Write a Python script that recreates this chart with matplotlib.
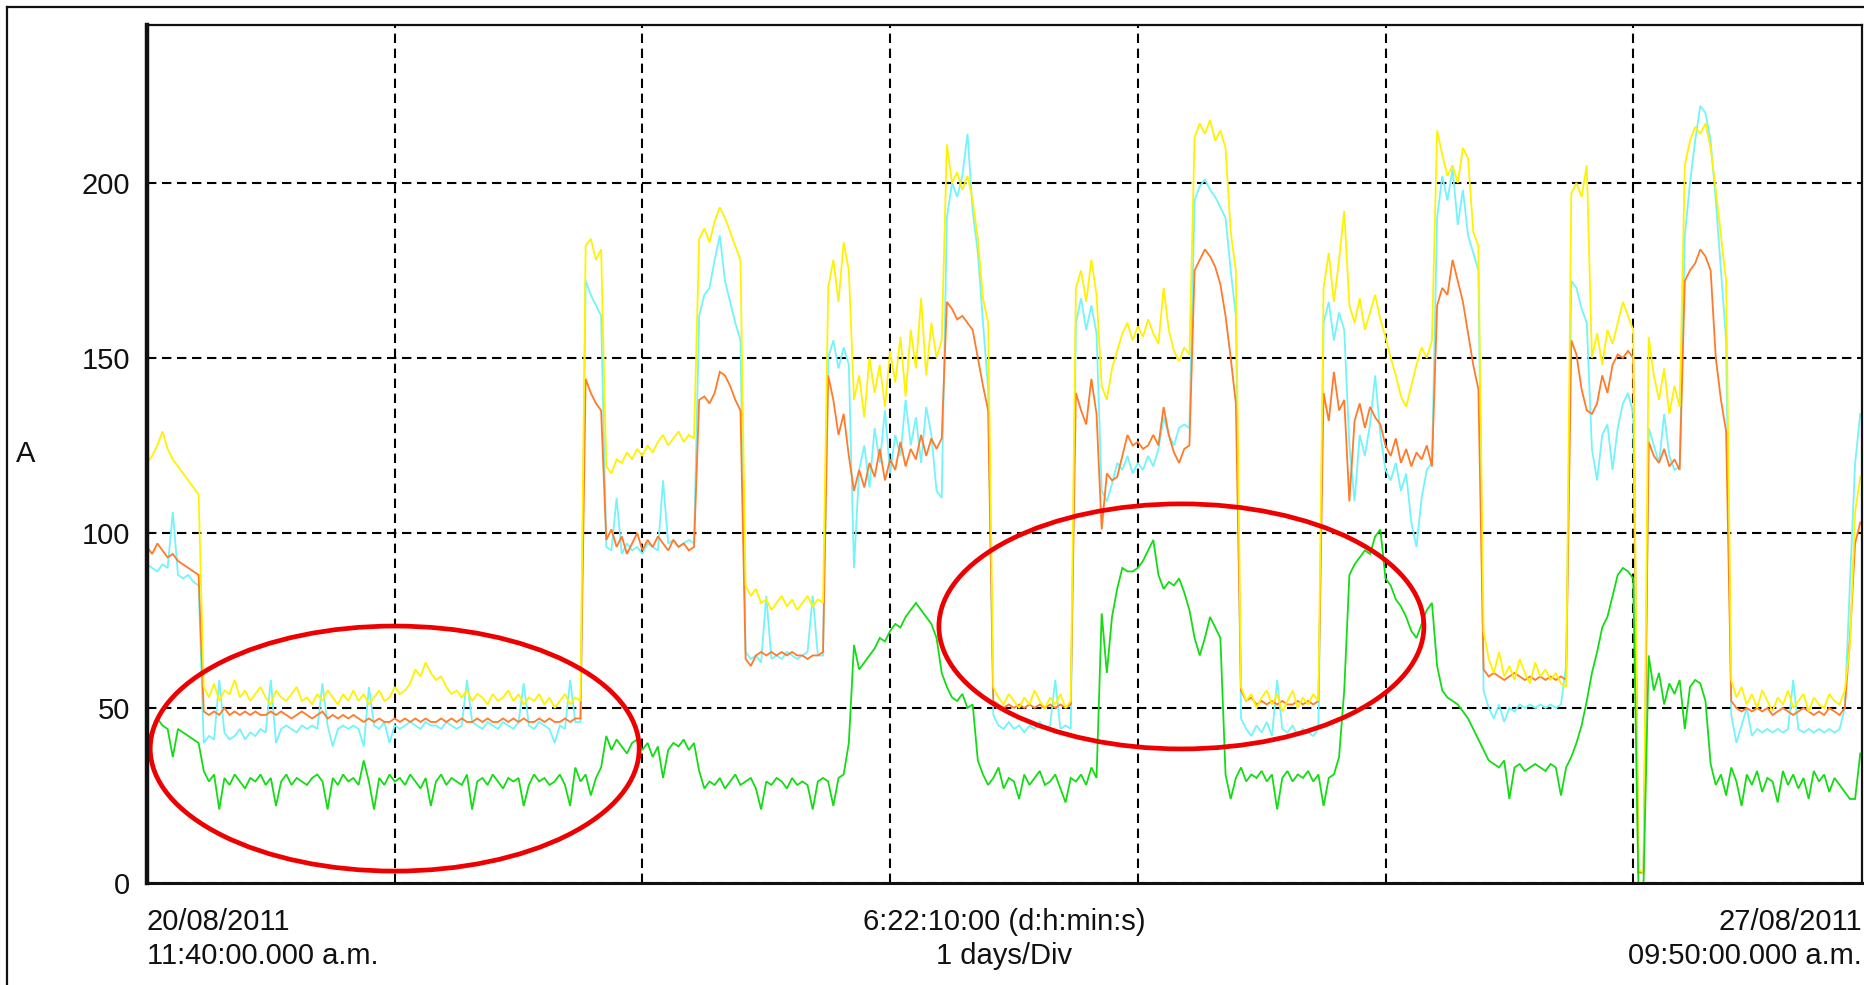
import numpy as np
import matplotlib
matplotlib.use("Agg")
import matplotlib.pyplot as plt
from matplotlib.patches import Ellipse
from matplotlib.lines import Line2D

plt.rcParams["font.family"] = ["Liberation Sans", "DejaVu Sans"]

# Currents (A), one sample every 30 minutes from 20/08/2011 11:40 a.m.
SAMPLES_PER_DAY = 48

phase_yellow = [
    120, 122, 125, 129, 124, 121, 119, 117, 115, 113, 111,
    56, 53, 57, 52, 55, 54, 58, 53, 55, 52,
    54, 56, 53, 51, 55, 53, 52, 54, 56, 52,
    53, 51, 54, 52, 55, 53, 51, 54, 52, 55,
    52, 54, 51, 53, 55, 52, 53, 56, 54, 55,
    57, 61, 59, 63, 60, 58, 59, 56, 54, 55,
    53, 55, 52, 54, 53, 51, 54, 52, 53, 55,
    52, 54, 51, 53, 52, 54, 51, 53, 50, 52,
    54, 51, 53,
    52,
    182, 184, 178, 181,
    119, 117, 121, 120, 123, 121, 124, 122, 125, 123, 126, 128, 125, 127, 129, 126, 128, 127,
    184, 187, 183, 189, 193, 190, 186, 182, 178,
    85, 82, 84, 80, 81, 78, 80, 82, 79, 81, 78, 80, 82, 79, 81, 80,
    170, 178, 166, 183, 175,
    138, 145, 133, 150, 140, 148, 136, 152, 143, 156, 139, 158, 147, 167, 145, 160, 150, 155,
    211, 200, 203, 198, 202, 195, 184, 167, 160,
    56, 53, 51, 54, 52, 50, 53, 51, 55, 52, 50, 53, 51, 54, 50, 52,
    170, 175, 166, 178, 168,
    142, 138, 147, 152, 157, 160, 155, 159, 156, 161, 157, 154, 170, 158, 152, 149, 153,
    151,
    213, 217, 214, 218, 212, 215, 210, 186, 175,
    56, 52, 54, 50, 53, 55, 51, 54, 49, 52, 55, 50, 53, 51, 54, 52,
    170, 180, 166, 178, 192,
    165, 160, 167, 158, 163, 168, 161, 156, 150, 145, 139, 136, 142, 148, 153, 150, 155,
    215, 208, 202, 205, 200, 210, 207, 186, 182,
    72, 64, 60, 66, 59, 62, 58, 64, 60, 57, 63, 59, 61, 58, 60, 57, 56,
    197, 200, 196, 205,
    150, 157, 148, 158, 154, 160, 166, 162, 158,
    4, 3,
    156, 145, 138, 147, 134, 142, 136,
    205, 212, 216, 214, 217, 210, 198, 185, 172,
    58, 53, 56, 51, 54, 50, 55, 52, 49, 53, 51, 55, 50, 52, 54, 49, 53, 51, 50, 54, 52, 51,
    55, 68, 106, 116,
]

phase_cyan = [
    91, 90, 89, 91, 90, 106, 88, 87, 88, 86, 85,
    40, 42, 41, 58, 43, 41, 42, 44, 41, 43,
    42, 44, 43, 58, 40, 44, 45, 44, 43, 45,
    44, 45, 44, 57, 45, 39, 44, 45, 44, 45,
    44, 39, 56, 45, 44, 46, 40, 45, 44, 45,
    46, 45, 44, 46, 45, 45, 44, 46, 45, 44,
    45, 58, 46, 45, 44, 46, 45, 44, 46, 45,
    44, 46, 57, 45, 44, 46, 45, 44, 40, 45,
    44, 58, 46,
    46,
    172, 168, 165, 162,
    96, 95, 110, 94, 97, 95, 96, 94, 97, 96, 95, 115, 97, 98, 96, 97, 98, 97,
    162, 168, 170, 178, 185, 172, 166, 160, 155,
    66, 64, 65, 63, 82, 64, 65, 64, 66, 65, 64, 65, 66, 82, 65, 65,
    150, 155, 147, 153, 148,
    90, 118, 125, 113, 130, 120, 135, 117, 128, 122, 138, 125, 133, 120, 136, 128, 112, 110,
    190, 200, 196, 202, 214, 192, 180, 160, 141,
    48, 45, 44, 46, 44, 45, 43, 45, 44, 46, 44, 45, 58, 44, 45, 44,
    160, 167, 158, 165, 157,
    112, 109, 114, 120, 118, 122, 117, 120, 118, 122, 119, 124, 133, 128, 125, 130, 131,
    130,
    195, 199, 201, 198, 196, 193, 190, 175, 162,
    47, 44, 42, 45, 43, 46, 42, 58, 44, 43, 45, 42, 44, 43, 42, 44,
    160, 166, 155, 163, 158,
    125, 109, 128, 122, 131, 145, 128, 118, 115, 120, 112, 117, 103, 96, 110, 118, 120,
    190, 202, 195, 204, 188, 198, 185, 180, 175,
    55, 50, 47, 51, 46, 50, 49, 51, 50, 51, 50, 51, 50, 51, 50, 51, 62,
    172, 170, 164, 160,
    124, 115, 128, 131, 118, 130, 137, 140, 134,
    3, 3,
    130, 125, 120, 134, 122, 118, 119,
    185, 200, 212, 222, 220, 212, 195, 175, 155,
    48, 40, 45, 50, 42, 44, 43, 44, 43, 44, 43, 44, 58, 44, 43, 44, 43, 44, 43, 44, 43, 44,
    50, 86, 120, 134,
]

phase_orange = [
    96, 94, 97, 95, 93, 94, 92, 91, 90, 89, 88,
    49, 48, 49, 48, 50, 48, 49, 48, 49, 48,
    49, 48, 48, 49, 48, 49, 48, 47, 48, 49,
    48, 47, 48, 49, 47, 48, 47, 48, 47, 48,
    47, 46, 47, 46, 47, 46, 46, 47, 46, 47,
    46, 47, 46, 47, 46, 46, 47, 46, 47, 46,
    47, 46, 46, 47, 46, 47, 46, 46, 47, 46,
    47, 46, 47, 46, 46, 47, 46, 47, 46, 46,
    47, 46, 47,
    47,
    144, 140, 137, 135,
    98, 101, 96, 99, 94, 97, 100, 95, 98, 96, 99, 97, 95, 98, 96, 97, 95, 96,
    138, 139, 137, 140, 146, 145, 142, 138, 135,
    64, 62, 65, 66, 65, 66, 65, 66, 65, 66, 65, 65, 64, 65, 65, 66,
    145, 138, 128, 134, 122,
    112, 118, 113, 120, 116, 124, 115, 121, 118, 126, 119, 124, 121, 128, 122, 127, 124, 127,
    166, 164, 161, 162, 160, 158, 150, 142, 135,
    52, 51, 50, 51, 50, 51, 50, 51, 50, 51, 50, 51, 50, 51, 50, 51,
    140, 135, 131, 144, 134,
    101, 117, 115, 116, 122, 128, 125, 126, 124, 125, 128, 125, 136, 128, 123, 120, 124,
    125,
    175, 178, 181, 179, 176, 171, 162, 150, 137,
    55, 52, 53, 51, 52, 51, 52, 51, 52, 51, 51, 52, 51, 52, 51, 52,
    140, 132, 146, 135, 138,
    109, 132, 137, 130, 136, 133, 131, 125, 122, 127, 120, 124, 119, 123, 121, 125, 119,
    165, 170, 168, 178, 172, 166, 157, 148, 141,
    61, 59, 60, 59, 58, 59, 60, 59, 58, 59, 58, 59, 58, 59, 58, 59, 58,
    155, 151, 141, 135,
    134, 137, 145, 140, 148, 151, 150, 152, 150,
    3, 3,
    126, 122, 120, 124, 119, 121, 118,
    172, 175, 177, 181, 179, 175, 150, 138, 129,
    52, 50, 49, 50, 49, 50, 49, 50, 48, 49, 50, 49, 48, 49, 50, 49, 48, 49, 48, 50, 49, 48,
    50, 70, 97, 103,
]

neutral_green = [
    40, 44, 47, 45, 44, 36, 44, 43, 42, 41, 40,
    32, 29, 31, 21, 30, 28, 31, 29, 27, 30,
    29, 31, 28, 30, 22, 29, 31, 28, 30, 29,
    28, 30, 31, 29, 21, 30, 28, 31, 29, 30,
    28, 35, 29, 21, 30, 28, 31, 29, 30, 28,
    31, 29, 27, 30, 22, 29, 31, 28, 30, 29,
    28, 31, 21, 29, 30, 28, 31, 29, 27, 30,
    29, 30, 22, 28, 31, 29, 30, 28, 29, 31,
    28, 22, 33,
    29, 31, 25, 30, 33,
    42, 38, 41, 39, 37, 40, 41, 38, 40, 36, 39, 30, 38, 40, 39, 41, 38, 40,
    32, 27, 29, 28, 30, 27, 29, 31, 28, 29, 30, 27, 21, 29, 28, 30, 29, 27, 30, 28, 29, 28, 21, 29, 30,
    29, 22, 30, 31, 40,
    68, 61, 63, 65, 67, 70, 69, 72, 74, 73, 76, 78, 80, 78, 76, 74, 70, 60,
    56, 53, 52, 54, 50, 51, 35,
    31, 28, 30, 33, 27, 30, 29, 24, 31, 28, 30, 32, 28, 29, 31, 27, 23, 30,
    29, 31, 28, 33, 30,
    77, 60, 76, 84, 90, 89, 89, 90, 92, 95, 98, 88, 84, 86, 85, 87, 83, 78, 70, 65, 70, 76, 73, 70,
    31, 24, 30, 33, 29, 31, 30, 32, 29, 31, 21, 30, 32, 29, 31, 30, 32, 29, 31,
    22, 30, 31, 36, 55,
    88, 91, 93, 95, 94, 99, 101, 87, 85, 81, 79, 76, 72, 70, 74, 78, 80,
    62, 55, 53, 52, 51, 49, 47, 44, 41, 38, 35,
    34, 33, 35, 24, 33, 34, 32, 33, 34, 33, 32, 34, 33, 25, 33,
    36, 40, 45, 52, 60, 66, 73, 76, 82, 88, 90, 89, 87,
    0, 0,
    65, 55, 60, 51, 57, 54, 58, 44, 56, 58, 57, 52,
    34, 28, 31, 25, 33, 29, 22, 31, 28, 32, 26, 30, 29, 23, 32, 28, 31, 27, 30, 24, 32, 29, 31, 26, 30, 28,
    26, 24, 24, 37,
]

y_ticks = [0, 50, 100, 150, 200]
start_label = ["20/08/2011", "11:40:00.000 a.m."]
span_label = ["6:22:10:00 (d:h:min:s)", "1 days/Div"]
end_label = ["27/08/2011", "09:50:00.000 a.m."]
y_unit = "A"

# window length: 6 d 22 h 10 min
span_days = 6 + 22 / 24 + 10 / 1440

W, H = 1864, 985
fig = plt.figure(figsize=(W / 100, H / 100), dpi=100)
ax = fig.add_axes([147 / W, 1 - 883 / H, (1862 - 147) / W, (883 - 25) / H])

series = [
    (phase_cyan, "#72F4FA", 3),
    (phase_orange, "#FF7A2A", 4),
    (phase_yellow, "#FFF200", 5),
    (neutral_green, "#14DC14", 6),
]
for values, color, z in series:
    t = np.arange(len(values)) / SAMPLES_PER_DAY
    ax.plot(t, values, color=color, lw=1.3, zorder=z, solid_joinstyle="miter")

ax.set_xlim(0, span_days)
ax.set_ylim(0, 245.1)
ax.set_xticks(np.arange(1, 7))
ax.set_xticklabels([])
ax.set_yticks(y_ticks)
ax.set_yticklabels([str(v) for v in y_ticks])
ax.tick_params(axis="both", length=0)
ax.tick_params(axis="y", pad=12, labelsize=21, labelcolor="#111111")
ax.grid(True, color="black", linestyle=(0, (4.5, 2.7)), linewidth=1.5, zorder=1)
ax.set_axisbelow(True)

for side, lw in (("left", 3.2), ("bottom", 2.2), ("top", 1.6), ("right", 1.6)):
    ax.spines[side].set_linewidth(lw)
    ax.spines[side].set_color("#111111")
    ax.spines[side].set_zorder(10)

# highlighted regions
for (cx, cy), (w, h) in (((1.0, 38.4), (1.974, 70.0)), ((4.176, 73.3), (1.958, 70.0))):
    ax.add_patch(Ellipse((cx, cy), w, h, fill=False, edgecolor="#EE0000",
                         linewidth=3.4, zorder=8, clip_on=False))

# outer frame
fig.add_artist(Line2D([7 / W, 7 / W], [0, 1 - 7 / H], transform=fig.transFigure,
                      color="#111111", lw=1.6))
fig.add_artist(Line2D([7 / W, 1], [1 - 7 / H, 1 - 7 / H], transform=fig.transFigure,
                      color="#111111", lw=1.6))

txt = dict(fontsize=21, color="#111111", va="baseline")
base1, base2 = 1 - 930 / H, 1 - 964 / H
fig.text(147 / W, base1, start_label[0], ha="left", **txt)
fig.text(147 / W, base2, start_label[1], ha="left", **txt)
fig.text(1004.5 / W, base1, span_label[0], ha="center", **txt)
fig.text(1004.5 / W, base2, span_label[1], ha="center", **txt)
fig.text(1862 / W, base1, end_label[0], ha="right", **txt)
fig.text(1862 / W, base2, end_label[1], ha="right", **txt)
fig.text(26 / W, 1 - 454 / H, y_unit, ha="center", va="center", fontsize=21, color="#111111")

fig.savefig("out.png", dpi=100)
